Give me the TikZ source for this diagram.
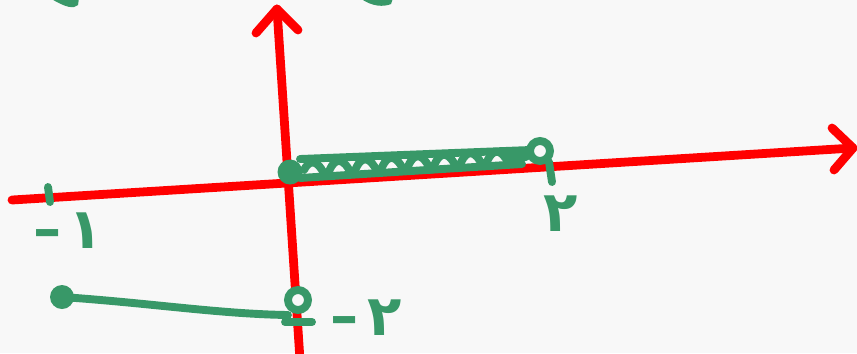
\documentclass[tikz,border=0pt]{standalone}
\usepackage{fontspec}
\newfontfamily\digitfont{DejaVu Sans}
\usetikzlibrary{decorations.pathmorphing}
\definecolor{pen}{RGB}{56,152,104}
\definecolor{paper}{RGB}{248,248,248}

\begin{document}
\begin{tikzpicture}[
  x=0.02cm, y=-0.02cm,
  axis/.style={draw=red, line width=5pt, line cap=round, line join=round},
  ink/.style={draw=pen, line width=4.5pt, line cap=round, line join=round},
  hollow/.style={draw=pen, line width=4.5pt, fill=paper},
  lbl/.style={text=pen, font=\digitfont\bfseries\fontsize{32}{32}\selectfont, inner sep=0pt}
]
\fill[paper] (0,0) rectangle (857,353);
\useasboundingbox (0,0) rectangle (857,353);

% --- scraps of cut-off writing at the top ---
\fill[pen] (50,-2) -- (79,-2) -- (78,5) .. controls (74,9) and (66,8) .. (50,-2) -- cycle;
\fill[pen] (360,-2) -- (393,-2) -- (391,4) .. controls (384,7) and (372,7) .. (360,-2) -- cycle;

% --- axes ---
\coordinate (xstart) at (12,200);
\coordinate (xend)   at (853,148);
\coordinate (xup)    at (832,128);
\coordinate (xdown)  at (834,170);
\coordinate (ystart) at (300,360);
\coordinate (yend)   at (277,9);
\coordinate (yleft)  at (256,33);
\coordinate (yright) at (298,30);
\draw[axis] (xstart) -- (xend);
\draw[axis] (xup) -- (xend) -- (xdown);
\draw[axis] (ystart) -- (yend);
\draw[axis] (yleft) -- (yend) -- (yright);

% --- interval on the axis, 0 to 2 ---
\coordinate (zero) at (290,172);
\coordinate (two)  at (540,151);
\draw[ink] (300,159) -- (530,150);
\draw[ink] (300,178) -- (522,164);
\draw[ink, decorate, decoration={coil, amplitude=4pt, segment length=15pt, aspect=0.3}] (304,170) -- (526,157);
\fill[pen] (zero) circle (0.25cm);
\draw[hollow] (two) circle (0.2cm);
\draw[ink] (549,162) -- (552,182);
\node[lbl] (ltwo) at (561,214) {٢};

% --- tick at -1 ---
\coordinate (mone) at (49,196);
\draw[ink] (48,187) -- (50,202);
\node[lbl] (lmone) at (68,231) {–\kern4pt١};

% --- lower segment ---
\coordinate (left)  at (62,297);
\coordinate (right) at (298,300);
\fill[pen] (left) circle (0.24cm);
\draw[ink] (left) .. controls (150,303) and (220,314) .. (288,315);
\draw[hollow] (right) circle (0.2cm);
\draw[ink] (285,322) -- (312,322);
\node[lbl] (lmtwo) at (366,318) {–\kern5pt٢};
\end{tikzpicture}
\end{document}
